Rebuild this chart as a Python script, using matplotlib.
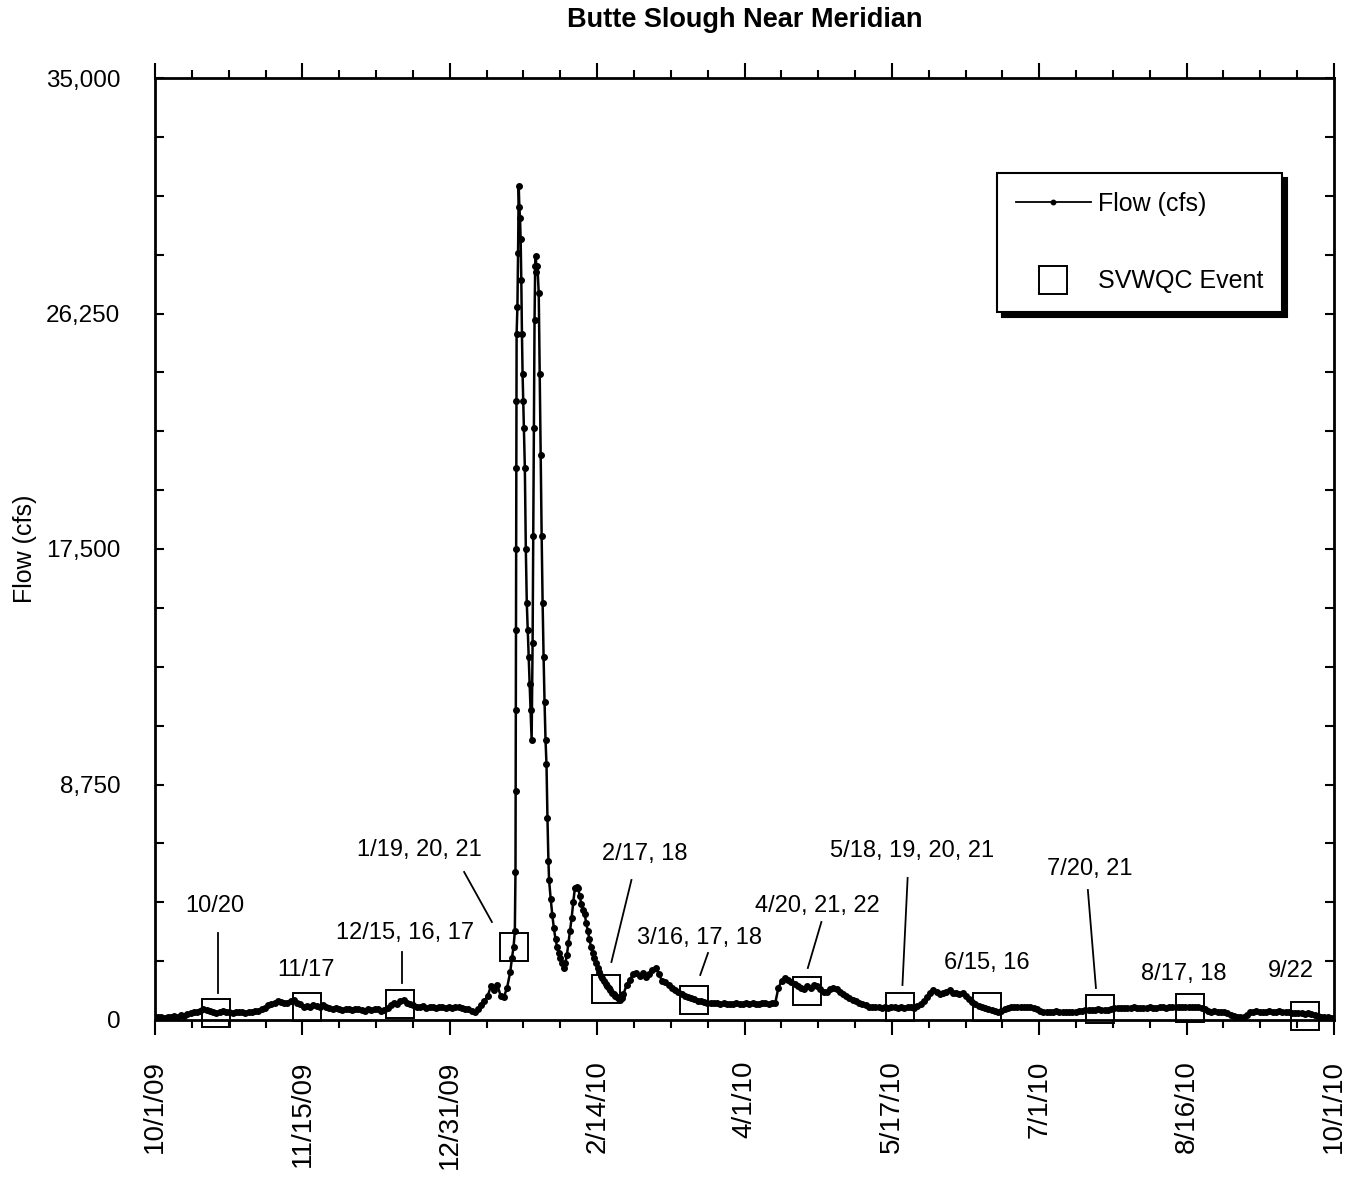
import numpy as np
import matplotlib.pyplot as plt
from matplotlib.lines import Line2D

plt.rcParams['font.family'] = ['Liberation Sans', 'DejaVu Sans']

# Butte Slough near Meridian, flow (cfs); x = days since 10/1/09
# daily values 10/1/09 .. 1/18/10 (days 0-109)
flow_fall = [
    100, 100, 120, 90, 130, 110, 150, 130, 180, 160,
    220, 250, 300, 280, 350, 400, 380, 330, 300, 250,
    280, 320, 300, 280, 260, 300, 280, 300, 250, 280,
    300, 320, 350, 400, 450, 550, 600, 620, 700, 680,
    650, 620, 700, 750, 650, 600, 500, 520, 480, 550,
    520, 500, 550, 480, 450, 420, 450, 400, 380, 420,
    400, 380, 400, 420, 380, 350, 400, 380, 420, 400,
    350, 380, 450, 550, 650, 600, 700, 750, 650, 600,
    550, 500, 480, 520, 450, 500, 480, 450, 500, 470,
    430, 480, 450, 500, 480, 460, 420, 400, 350, 300,
    420, 550, 700, 900, 1250, 1100, 1300, 900, 850, 1200,
]

# sub-daily record through the January storm (days 110-144.5)
storm_day = [
    110, 110.5, 111, 111.4, 111.6, 111.65, 111.7, 111.75, 111.8, 111.85,
    111.9, 111.95, 112.2, 112.4, 112.6, 112.8, 113.0, 113.2, 113.4, 113.6,
    113.8, 114.0, 114.2, 114.5, 114.8, 115.1, 115.4, 115.7, 116.0, 116.3,
    116.6, 116.9, 117.1, 117.3, 117.5, 117.7, 117.9, 118.1, 118.4, 118.8,
    119.1, 119.4, 119.7, 120.0, 120.3, 120.6, 120.9, 121.2, 121.5, 121.8,
    122.0, 122.5, 123.0, 123.5, 124.0, 124.5, 125.0, 125.5, 126.0, 126.5,
    127.0, 127.5, 128.0, 128.5, 129.0, 129.5, 130.0, 130.5, 131.0, 131.5,
    132.0, 132.5, 133.0, 133.5, 134.0, 134.5, 135.0, 135.5, 136.0, 136.5,
    137.0, 137.5, 138.0, 138.5, 139.0, 139.5, 140.0, 140.5, 141.0, 141.5,
    142.0, 142.5, 143.0, 143.5, 144.0, 144.5,
]
storm_flow = [
    1800, 2300, 2700, 3300, 5500, 8500, 11500, 14500, 17500, 20500,
    23000, 25500, 26500, 28500, 31000, 30200, 29800, 29000, 27500, 25500,
    24000, 23000, 22000, 20500, 17500, 15500, 14500, 13500, 12500, 11500,
    10400, 14000, 18000, 22000, 26000, 28000, 28400, 27800, 28000, 27000,
    24000, 21000, 18000, 15500, 13500, 11800, 10400, 9500, 7500, 5900,
    5200, 4500, 3900, 3400, 3000, 2700, 2500, 2300, 2100, 1950,
    2100, 2400, 2860, 3300, 3800, 4400, 4900, 4950, 4900, 4600,
    4300, 4100, 3950, 3600, 3300, 3000, 2700, 2500, 2300, 2100,
    1950, 1800, 1650, 1550, 1450, 1350, 1250, 1200, 1100, 1000,
    950, 900, 850, 780, 750, 800,
]

# daily values 2/23/10 .. 10/1/10 (days 145-365)
flow_spring = [
    950, 1300, 1500, 1700, 1750, 1650, 1750, 1600, 1700, 1850,
    1950, 1700, 1450, 1400, 1300, 1200, 1100, 1050, 950, 900,
    850, 820, 780, 720, 700, 670, 650, 640, 630, 620,
    600, 620, 580, 610, 600, 630, 590, 600, 620, 600,
    640, 610, 600, 650, 620, 600, 640, 620, 1200, 1450,
    1550, 1500, 1400, 1350, 1250, 1200, 1150, 1250, 1200, 1300,
    1250, 1150, 1050, 1050, 1150, 1200, 1150, 1050, 950, 880,
    820, 760, 700, 650, 600, 550, 500, 480, 470, 490,
    460, 480, 450, 470, 480, 460, 470, 450, 480, 470,
    460, 520, 600, 700, 850, 1000, 1100, 1050, 980, 1000,
    1050, 1100, 1000, 1020, 980, 1000, 900, 780, 680, 580,
    520, 480, 450, 420, 380, 320, 300, 350, 420, 450,
    470, 480, 480, 500, 470, 490, 480, 460, 420, 320,
    300, 310, 290, 300, 320, 280, 300, 310, 290, 300,
    280, 320, 350, 370, 360, 380, 370, 400, 380, 360,
    390, 400, 430, 450, 440, 460, 450, 440, 470, 450,
    430, 460, 450, 470, 460, 450, 480, 470, 460, 490,
    480, 480, 500, 490, 470, 500, 480, 490, 470, 460,
    420, 350, 300, 320, 280, 300, 310, 260, 200, 150,
    110, 100, 130, 200, 280, 300, 320, 290, 310, 300,
    330, 310, 300, 320, 290, 300, 280, 260, 270, 250,
    260, 240, 250, 230, 200, 150, 120, 110, 100, 90,
    80,
]

tick_labels = ['10/1/09', '11/15/09', '12/31/09', '2/14/10', '4/1/10',
               '5/17/10', '7/1/10', '8/16/10', '10/1/10']

# SVWQC sampling events (center day since 10/1/09, flow at the event)
event_labels = ['10/20', '11/17', '12/15, 16, 17', '1/19, 20, 21', '2/17, 18',
                '3/16, 17, 18', '4/20, 21, 22', '5/18, 19, 20, 21', '6/15, 16',
                '7/20, 21', '8/17, 18', '9/22']
event_day = [19, 47, 76, 111, 139.5, 167, 202, 230.5, 257.5, 292.5, 320.5, 356]
event_flow = [250, 480, 600, 2700, 1150, 740, 1080, 480, 480, 410, 450, 150]

# label placement (day, flow) and leader lines ((d0, f0), (d1, f1)) or None
label_pos = [(18.5, 4236), (46.6, 1858), (77.4, 3233), (81.8, 6317), (151.5, 6169),
             (168.5, 3047), (205.2, 4236), (234.5, 6280), (257.6, 2118),
             (289.4, 5611), (318.4, 1709), (351.7, 1821)]
leaders = [((19.4, 3233), (19.4, 1003)), None, ((76.5, 2527), (76.5, 1375)),
           ((95.7, 5500), (104.3, 3642)), ((147.5, 5202), (141.3, 2155)),
           ((171.2, 2490), (168.8, 1672)), ((206.3, 3642), (202.1, 1932)),
           ((233.0, 5277), (231.4, 1300)), None, ((288.8, 4831), (291.3, 1189)),
           None, None]

day = np.concatenate([np.arange(0, 110), storm_day, np.arange(145, 366)])
flow = np.concatenate([flow_fall, storm_flow, flow_spring])

fig = plt.figure(figsize=(13.46, 11.88), dpi=100)
ax = fig.add_axes([155 / 1346, 1 - 1020 / 1188, 1179 / 1346, 942 / 1188])

ax.plot(day, flow, color='black', lw=1.8, marker='o', ms=4, zorder=3)
ax.plot(event_day, event_flow, ls='none', marker='s', ms=19.5, mfc='none',
        mec='black', mew=1.4, clip_on=False, zorder=4)

for lab, (tx, ty), ld in zip(event_labels, label_pos, leaders):
    ax.text(tx, ty, lab, fontsize=17, ha='center', va='center')
    if ld is not None:
        ax.plot([ld[0][0], ld[1][0]], [ld[0][1], ld[1][1]], color='black', lw=1.3)

ax.set_xlim(0, 365)
ax.set_ylim(0, 35000)
ax.set_xticks(np.linspace(0, 365, 9))
ax.set_xticks(np.linspace(0, 365, 33), minor=True)
ax.set_xticklabels(tick_labels, rotation=90, va='top', fontsize=20)
yt = [0, 8750, 17500, 26250, 35000]
ax.set_yticks(yt)
ax.set_yticks(np.arange(0, 35001, 2187.5), minor=True)
ax.set_yticklabels([f'{v:,}' for v in yt], fontsize=17.5)

ax.tick_params(axis='x', which='both', direction='out', top=True, bottom=True, width=1.5)
ax.tick_params(axis='x', which='major', length=11, pad=18)
ax.tick_params(axis='x', which='minor', length=6)
ax.tick_params(axis='y', which='both', direction='in', left=True, right=True,
               width=1.5, length=6.5)
ax.tick_params(axis='y', which='major', pad=25)
for s in ax.spines.values():
    s.set_linewidth(2)

ax.set_ylabel('Flow (cfs)', fontsize=18)
ax.yaxis.set_label_coords(-0.100, 0.5)
fig.text(745 / 1346, 1 - 20 / 1188, 'Butte Slough Near Meridian', fontsize=19.5,
         fontweight='bold', ha='center', va='center')

handles = [Line2D([], [], color='black', lw=1.3, marker='o', ms=3.2),
           Line2D([], [], ls='none', marker='s', ms=19.5, mfc='none', mec='black', mew=1.4)]
leg = ax.legend(handles, ['Flow (cfs)', 'SVWQC Event'], loc='upper left',
                bbox_to_anchor=(0.7140, 0.8992), borderaxespad=0, fontsize=18,
                frameon=True, fancybox=False, edgecolor='black', framealpha=1,
                handlelength=3.0, handletextpad=0.3, labelspacing=2.15,
                borderpad=0.75, shadow={'color': 'black', 'alpha': 1, 'ox': 3.5, 'oy': -3.5})
leg.get_frame().set_linewidth(1.5)

fig.savefig('out.png', dpi=100, facecolor='white')
